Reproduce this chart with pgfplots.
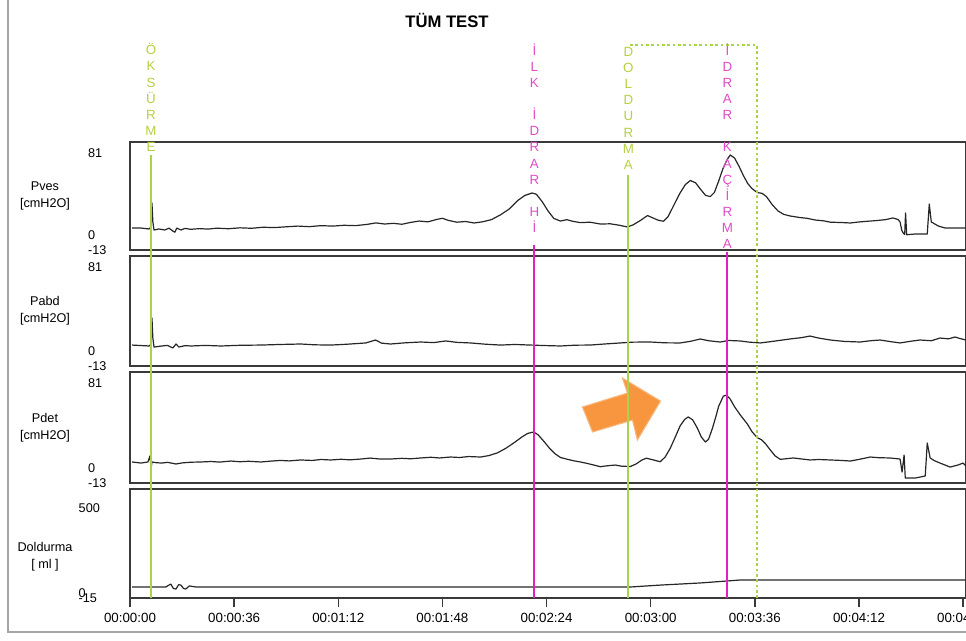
\documentclass[border=0pt]{standalone}
\usepackage{fontspec}
\setmainfont{Liberation Sans}
\usepackage{pgfplots}
\pgfplotsset{compat=1.18}
\definecolor{trace}{HTML}{262626}
\definecolor{frame}{HTML}{3A3A3A}
\definecolor{mkgreen}{HTML}{A9D34A}
\definecolor{txgreen}{HTML}{B5D040}
\definecolor{mkmag}{HTML}{E020C0}
\definecolor{txmag}{HTML}{E04CC6}
\definecolor{arrowor}{HTML}{F7963F}
\definecolor{arrowed}{HTML}{F9B77E}
\pgfplotsset{
 panel/.style={
  scale only axis, width=627pt, xmin=0, xmax=289,
  axis line style={frame, line width=1.1pt},
  xtick=\empty,
  ytick={-13,0}, yticklabels={-13,0},
  extra y ticks={81}, extra y tick labels={81},
  extra y tick style={yticklabel style={yshift=-8pt}},
  ytick style={draw=none},
  yticklabel style={anchor=west, xshift=-35pt, font=\fontsize{9.5}{11}\selectfont},
  every axis y label/.style={at={(axis description cs:0,0.5)}, anchor=center, xshift=-63.75pt, align=center, font=\fontsize{9.5}{13}\selectfont},
  /pgf/number format/assume math mode=true,
 },
 tr/.style={color=trace, line width=0.9pt, mark=none, line join=round},
}
\begin{document}
\begin{tikzpicture}
% outer frame
\draw[gray!70, line width=0.8pt] (6pt,0pt) -- (6pt,-474pt) -- (724.5pt,-474pt);
% title
\node[font=\bfseries\fontsize{12.5}{14}\selectfont] at (335.25pt,-15pt) {TÜM TEST};

% ---------- Pves ----------
\begin{axis}[panel, at={(97.5pt,-106.5pt)}, anchor=north west, height=81pt,
  ymin=-13, ymax=81, ylabel={Pves\\{[cmH2O]}}]
\addplot[tr] coordinates {(0.7,6.1)(3.8,6.1)(6.6,5.3)(7.3,7.0)(7.6,27.9)(7.9,11.4)(8.3,4.4)(10,5.3)(12,4.4)(13.5,6.0)(14.8,3.5)(15.5,2.5)(16.2,6.1)(17.6,4.4)(19,5.8)(21,5.0)(24,5.6)(27,5.2)(30,6.0)(34,5.5)(38,6.3)(42,5.9)(46,6.8)(50,6.5)(54,7.2)(58,7.8)(62,7.3)(66,8.2)(70,7.8)(74,8.5)(78,8.2)(82,9.3)(85,10.6)(88,9.6)(91,10.2)(94,9.4)(97,11.0)(100,12.2)(103,11.5)(106,13.6)(108,14.6)(110,12.8)(113,11.2)(116,11.8)(119,10.5)(122,11.6)(125,13.5)(128,17.5)(131,22.5)(134,30.0)(136.5,34.5)(139,36.6)(140.5,35.5)(142.5,29.0)(144.5,21.0)(146.5,14.5)(148.8,12.2)(151,13.4)(153,12.0)(155.7,10.8)(159,11.2)(162.6,9.6)(166,9.8)(169,8.6)(172,7.0)(174,9.0)(176.5,12.8)(178.9,17.0)(180.5,15.2)(182.5,13.0)(184.4,12.0)(186,16.0)(188,26.0)(190,36.0)(192,44.0)(193.7,47.5)(195.5,45.5)(197.5,39.0)(199,34.5)(200.6,33.5)(202,37.0)(203.5,47.0)(205,58.0)(206.5,66.0)(207.5,69.7)(209,67.0)(210.5,60.0)(212,52.0)(213.5,45.0)(215,40.5)(216.8,37.0)(218.5,36.3)(220,33.5)(222,26.5)(224,21.0)(226,18.0)(228.2,16.6)(231.7,15.2)(234,14.6)(236.9,13.1)(240,12.3)(242.1,11.2)(246,10.9)(249,10.5)(252,11.4)(255.9,12.2)(258,12.6)(261.1,13.4)(263.8,14.9)(265.5,13.5)(266.2,11.4)(266.8,4.0)(267.3,1.8)(267.8,0.5)(268.1,19.2)(268.5,0.3)(271.4,0.9)(275.6,0.9)(276.3,27.0)(277,11.4)(279.4,7.9)(281.8,6.1)(289,6.1)};
\end{axis}

% ---------- Pabd ----------
\begin{axis}[panel, at={(97.5pt,-192pt)}, anchor=north west, height=82.5pt,
  ymin=-13, ymax=81, ylabel={Pabd\\{[cmH2O]}}]
\addplot[tr] coordinates {(0.7,4.9)(6.6,4.1)(7.3,5.8)(7.6,28.0)(7.9,10.9)(8.3,3.2)(11,4.1)(13,4.6)(14.8,2.4)(15.9,5.8)(16.9,3.2)(19,4.4)(21.1,4.1)(26,4.6)(31.4,4.1)(38,4.7)(45.2,4.9)(52,5.4)(59,5.8)(64,5.1)(69.4,4.9)(75,5.6)(81.5,6.7)(84.9,9.2)(87,6.5)(90.1,5.8)(95,6.8)(100.5,7.5)(105,7.0)(109.1,8.4)(113,7.2)(117.7,6.7)(123,5.6)(128.1,4.9)(133,5.4)(138.4,4.9)(143,4.5)(148.8,4.1)(154,4.8)(159.1,4.9)(164,5.8)(169.5,6.7)(174,7.4)(179.9,7.5)(185,6.8)(190.2,6.7)(194,8.2)(197.1,10.1)(200,8.6)(204,7.5)(207,8.8)(210.9,8.4)(214,7.4)(217.9,6.7)(222,8.0)(228.2,10.1)(232,11.2)(235.1,12.6)(238,10.9)(242.1,9.2)(247,8.0)(252.4,7.5)(256,8.6)(259.3,9.2)(263,7.8)(266.2,6.7)(270,8.2)(273.1,9.2)(277,8.6)(280,10.9)(283,10.2)(285.2,11.8)(287,10.4)(289,9.2)};
\end{axis}

% ---------- Pdet ----------
\begin{axis}[panel, at={(97.5pt,-279pt)}, anchor=north west, height=83.25pt,
  ymin=-13, ymax=81, ylabel={Pdet\\{[cmH2O]}}]
\addplot[tr] coordinates {(0.7,4.8)(3.8,3.9)(6.2,4.8)(6.9,9.9)(7.3,-0.3)(7.6,4.8)(9,4.2)(11,3.9)(13,4.5)(15.9,3.1)(18,4.0)(21,4.6)(24.5,4.8)(28,5.2)(31,4.7)(34.9,5.6)(38,5.0)(41,5.4)(45.2,4.8)(49,5.6)(52,6.1)(55,5.7)(59,6.5)(63,6.1)(66,6.9)(69.4,6.5)(73,7.1)(76,6.6)(79.8,7.3)(83,8.1)(86,7.4)(90.1,7.3)(94,7.9)(97,7.5)(100.5,8.2)(104,8.8)(107,8.2)(110.8,9.0)(114,8.6)(117,9.4)(121.2,9.0)(124,10.2)(127,12.5)(130,16.5)(133,21.5)(135.5,26.0)(137.5,29.0)(139.5,30.2)(141,28.0)(143,22.5)(145,16.5)(146.8,12.0)(148.8,8.6)(151,7.2)(153,6.0)(155.7,4.8)(158,3.6)(160,2.4)(162.6,0.8)(165,1.6)(167.8,2.2)(170,1.2)(173,1.0)(175,3.2)(177,6.5)(178.5,8.0)(180.5,6.8)(183.3,5.0)(185,9.0)(186.8,16.6)(188.5,26.0)(190.2,35.5)(191.8,41.0)(193,42.9)(194.5,40.5)(196.1,33.6)(197.5,26.0)(198.9,21.7)(200,24.0)(201.3,33.0)(202.5,43.0)(203.5,52.0)(205.1,60.5)(206.2,61.5)(207.5,58.0)(209,51.5)(211,44.5)(213.4,37.0)(215,30.5)(216.8,25.5)(218.3,23.6)(219.6,20.5)(221.5,14.5)(223,10.0)(224.8,7.0)(227,7.6)(229.3,8.2)(232,7.4)(235.1,6.5)(238,6.9)(242.1,6.5)(246,6.1)(249,5.6)(252,7.0)(255.9,9.0)(259,8.4)(262.7,8.2)(266.2,7.3)(266.9,-3.7)(267.6,10.7)(268,-8.8)(271.4,-8.8)(274.9,-7.1)(275.6,20.9)(276.6,8.2)(278,6.0)(280,3.9)(283.5,0.5)(286.2,2.2)(288,3.9)(289,1.4)};
\coordinate (a1) at (axis cs:156.4,51.4);
\coordinate (a2) at (axis cs:172.0,63.2);
\coordinate (a3) at (axis cs:170.2,75.9);
\coordinate (a4) at (axis cs:183.4,56.4);
\coordinate (a5) at (axis cs:175.4,23.4);
\coordinate (a6) at (axis cs:173.7,40.3);
\coordinate (a7) at (axis cs:159.9,30.2);
\end{axis}

% ---------- Doldurma ----------
\begin{axis}[panel, at={(97.5pt,-366.75pt)}, anchor=north west, height=81.75pt,
  ymin=-15, ymax=500, ytick={-15,0}, yticklabels={{-15},{\raisebox{2.5pt}{0}}},
  extra y ticks={500}, extra y tick labels={500},
  extra y tick style={yticklabel style={yshift=-6.5pt}},
  ylabel={Doldurma\\{[ ml ]}}, ylabel style={yshift=-10pt},
  xtick={0,36,...,288}, xtick pos=bottom,
  xticklabels={00:00:00,00:00:36,00:01:12,00:01:48,00:02:24,00:03:00,00:03:36,00:04:12,00:04:48},
  xtick style={draw=frame, line width=1pt}, tick align=outside, major tick length=7pt,
  xticklabel style={font=\fontsize{10}{11}\selectfont, yshift=-1pt}]
\addplot[tr] coordinates {(0.7,37)(12.4,37)(13.2,44)(14.1,51)(15,30)(15.9,27.5)(16.8,48)(17.6,46)(18.5,30)(19.3,27.5)(20.5,42)(22.8,37)(41.8,37)(93.6,37)(173,37)(183.3,46)(197.1,56)(210.9,70)(289,70)};
\draw[frame, line width=1.1pt] ([yshift=-3.75pt]rel axis cs:0,0) -- ([yshift=-3.75pt]rel axis cs:1,0);
\coordinate (v1) at (axis cs:7.25,-15);
\coordinate (v2) at (axis cs:139.8,-15);
\coordinate (v3) at (axis cs:172.3,-15);
\coordinate (v4) at (axis cs:206.5,-15);
\coordinate (v5) at (axis cs:216.8,-15);
\end{axis}

% orange arrow (annotation)
\fill[arrowor, draw=arrowed, line width=0.8pt, line join=miter]
  (a1) -- (a2) -- (a3) -- (a4) -- (a5) -- (a6) -- (a7) -- cycle;

% event markers
\draw[color=mkgreen, line width=1.5pt] (v1) -- (v1 |- 0,-116.25pt);
\draw[color=mkmag, line width=1.5pt] (v2) -- (v2 |- 0,-183.75pt);
\draw[color=mkgreen, line width=1.5pt] (v3) -- (v3 |- 0,-131.25pt);
\draw[color=mkmag, line width=1.5pt] (v4) -- (v4 |- 0,-189pt);
\draw[color=mkgreen, line width=1.1pt, dash pattern=on 2pt off 2pt] (v5) -- (v5 |- 0,-33.75pt) -- (v3 |- 0,-33.75pt);
\begin{scope}[every node/.style={anchor=north, align=center, inner sep=0pt, font=\fontsize{10}{12.1}\selectfont}]
\node[txgreen] at (v1 |- 0,-32.5pt) {Ö\\K\\S\\Ü\\R\\M\\E};
\node[txmag] at (v2 |- 0,-32.5pt) {İ\\L\\K\\\mbox{}\\İ\\D\\R\\A\\R\\\mbox{}\\H\\İ};
\node[txgreen] at (v3 |- 0,-35.25pt) {D\\O\\L\\D\\U\\R\\M\\A};
\node[txmag] at (v4 |- 0,-32.5pt) {İ\\D\\R\\A\\R\\\mbox{}\\K\\A\\Ç\\İ\\R\\M\\A};
\end{scope}
\pgfresetboundingbox
\path (0pt,0pt) rectangle (724.5pt,-480.75pt);
\end{tikzpicture}
\end{document}
